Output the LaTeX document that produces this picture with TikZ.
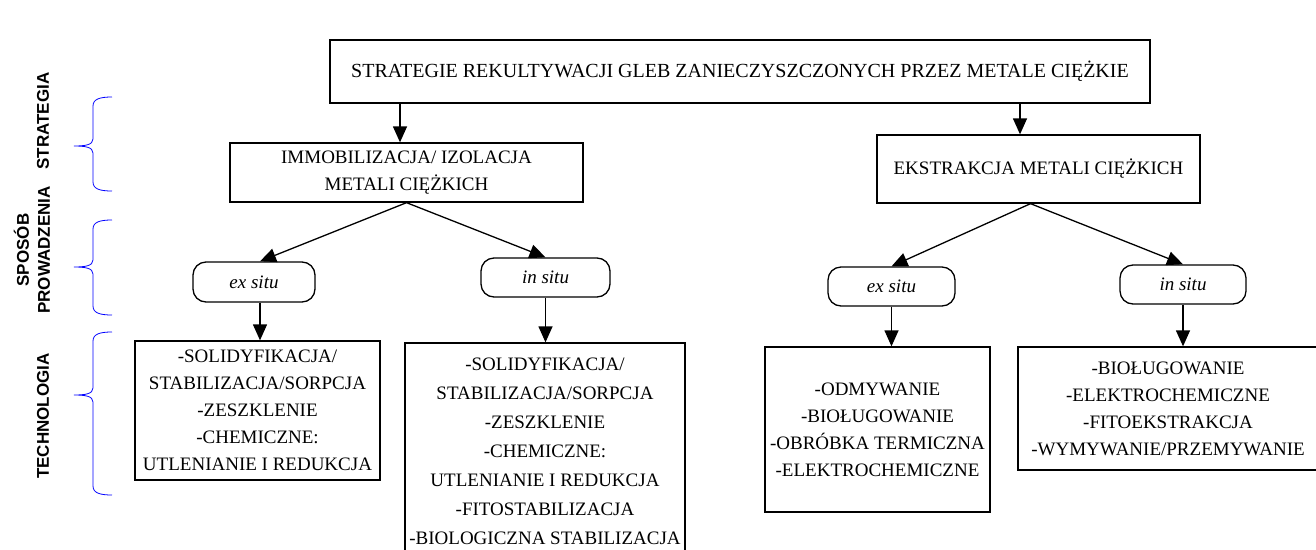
\documentclass[tikz,border=0pt]{standalone}
\usepackage{fontspec}
\setmainfont{Liberation Serif}
\setsansfont{Liberation Sans}
\usetikzlibrary{arrows.meta,positioning}

\begin{document}
\begin{tikzpicture}[x=1pt,y=-1pt,->,>={Triangle[length=16pt,width=14pt]},line width=1.3pt,
    box/.style={rectangle,draw,align=center,inner sep=0pt,font=\fontsize{19}{27}\selectfont},
    situ/.style={rectangle,draw,rounded corners=13pt,inner sep=0pt,font=\fontsize{19}{23}\selectfont\itshape},
    side/.style={rotate=90,align=center,font=\sffamily\bfseries\fontsize{17}{21}\selectfont},
    brace/.style={-,blue,line width=0.8pt}]

  \useasboundingbox (0,0) rectangle (1316,549);
  \clip (0,0) rectangle (1316,549);

  % strategie
  \node[box,minimum width=820pt,minimum height=63pt,font=\fontsize{20}{27}\selectfont] (1) at (740,71.5)
    {STRATEGIE REKULTYWACJI GLEB ZANIECZYSZCZONYCH PRZEZ METALE CIĘŻKIE};
  \node[box,minimum width=353pt,minimum height=59pt] (2) at (406.5,172.5)
    {IMMOBILIZACJA/ IZOLACJA\\METALI CIĘŻKICH};
  \node[box,minimum width=323pt,minimum height=68pt] (3) at (1038.5,169)
    {EKSTRAKCJA METALI CIĘŻKICH};

  % sposob prowadzenia
  \node[situ,minimum width=122pt,minimum height=40pt] (4) at (254,282) {ex situ};
  \node[situ,minimum width=129pt,minimum height=39pt] (5) at (545.5,277.5) {in situ};
  \node[situ,minimum width=127pt,minimum height=39pt] (6) at (891.5,286.5) {ex situ};
  \node[situ,minimum width=126pt,minimum height=39pt] (7) at (1183,284.5) {in situ};

  % technologie
  \node[box,minimum width=245pt,minimum height=139pt] (8) at (257.5,410.5)
    {-SOLIDYFIKACJA/\\STABILIZACJA/SORPCJA\\-ZESZKLENIE\\-CHEMICZNE:\\UTLENIANIE I REDUKCJA};
  \node[box,minimum width=280pt,minimum height=217pt,font=\fontsize{19}{29}\selectfont] (9) at (545,451.5)
    {-SOLIDYFIKACJA/\\STABILIZACJA/SORPCJA\\-ZESZKLENIE\\-CHEMICZNE:\\UTLENIANIE I REDUKCJA\\-FITOSTABILIZACJA\\-BIOLOGICZNA STABILIZACJA};
  \node[box,minimum width=225pt,minimum height=165pt] (10) at (877.5,429.5)
    {-ODMYWANIE\\-BIOŁUGOWANIE\\-OBRÓBKA TERMICZNA\\-ELEKTROCHEMICZNE};
  \node[box,minimum width=300pt,minimum height=123pt] (11) at (1168,408.5)
    {-BIOŁUGOWANIE\\-ELEKTROCHEMICZNE\\-FITOEKSTRAKCJA\\-WYMYWANIE/PRZEMYWANIE};

  \path
    ([xshift=-6.5pt]2.north |- 1.south) edge ([xshift=-6.5pt]2.north)
    ([xshift=-18.5pt]3.north |- 1.south) edge ([xshift=-18.5pt]3.north)
    (2.south) edge ([xshift=6pt]4.north)
    (2.south) edge (5.north)
    ([xshift=-8pt]3.south) edge (6.north)
    ([xshift=-8pt]3.south) edge (7.north)
    ([xshift=6pt]4.south) edge ([xshift=6pt]4.south |- 8.north)
    (5.south) edge (5.south |- 9.north)
    (6.south) edge (6.south |- 10.north)
    (7.south) edge (7.south |- 11.north);

  % opisy z lewej
  \node[side] (s1) at (43,121) {STRATEGIA};
  \node[side] (s2) at (32,250) {SPOSÓB\\PROWADZENIA};
  \node[side] (s3) at (43,416) {TECHNOLOGIA};

  \foreach \a/\m/\b in {97/146/191,220/267/315,332/395/495}
    \draw[brace] (112,\a) .. controls (100,\a) and (93,\a+2) .. (93,\a+9) -- (93,\m-7)
      .. controls (93,\m-1) and (85,\m) .. (74,\m) .. controls (85,\m) and (93,\m+1) .. (93,\m+7)
      -- (93,\b-9) .. controls (93,\b-2) and (100,\b) .. (112,\b);
\end{tikzpicture}
\end{document}
